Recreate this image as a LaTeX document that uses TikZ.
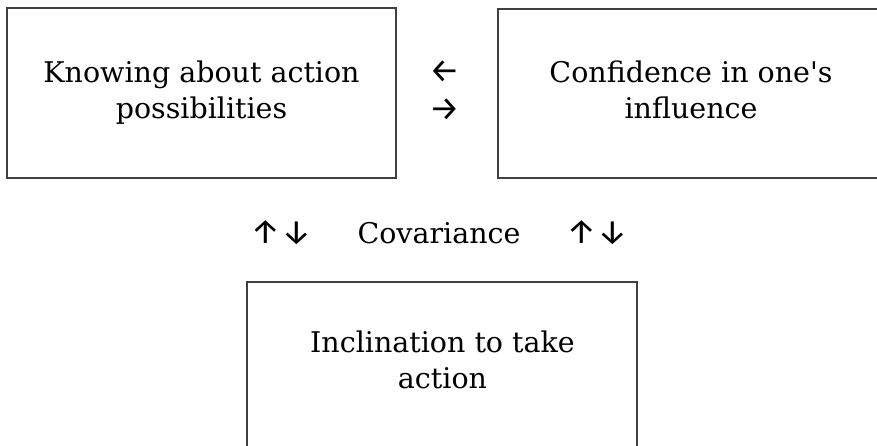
\documentclass[tikz,border=0pt]{standalone}
\usepackage{fontspec}
\setmainfont{DejaVu Serif}
\newfontfamily\arrowfont{Fira Sans}
\begin{document}
\begin{tikzpicture}[x=1pt,y=1pt,
  box/.style={draw=black!75, line width=1.3pt, align=center, inner sep=0pt,
    font=\fontsize{28.5}{36}\selectfont},
  lbl/.style={inner sep=0pt, align=center, font=\fontsize{28.5}{36}\selectfont},
  arr/.style={inner sep=0pt, font=\arrowfont\fontsize{34}{36}\selectfont}]
\useasboundingbox (0,0) rectangle (877,-445);
\clip (0,0) rectangle (877,-445);
\fill[white] (0,0) rectangle (877,-445);
\node[box, minimum width=389pt, minimum height=170pt] (know) at (201.5,-93) {Knowing about action\strut\\possibilities\strut};
\node[box, minimum width=386pt, minimum height=169pt] (conf) at (691,-93.5) {Confidence in one\textquotesingle s\strut\\influence\strut};
\node[box, minimum width=390pt, minimum height=175pt] (inclbox) at (442,-369.5) {};
\node[lbl] (incl) at (442.5,-363) {Inclination to take\strut\\action\strut};
\node[arr] (larr) at (445,-72) {←};
\node[arr] (rarr) at (445,-110) {→};
\node[arr] (ud1) at (281,-233) {↑↓};
\node[lbl] (cov) at (439,-233) {Covariance};
\node[arr] (ud2) at (597,-233) {↑↓};
\end{tikzpicture}
\end{document}
